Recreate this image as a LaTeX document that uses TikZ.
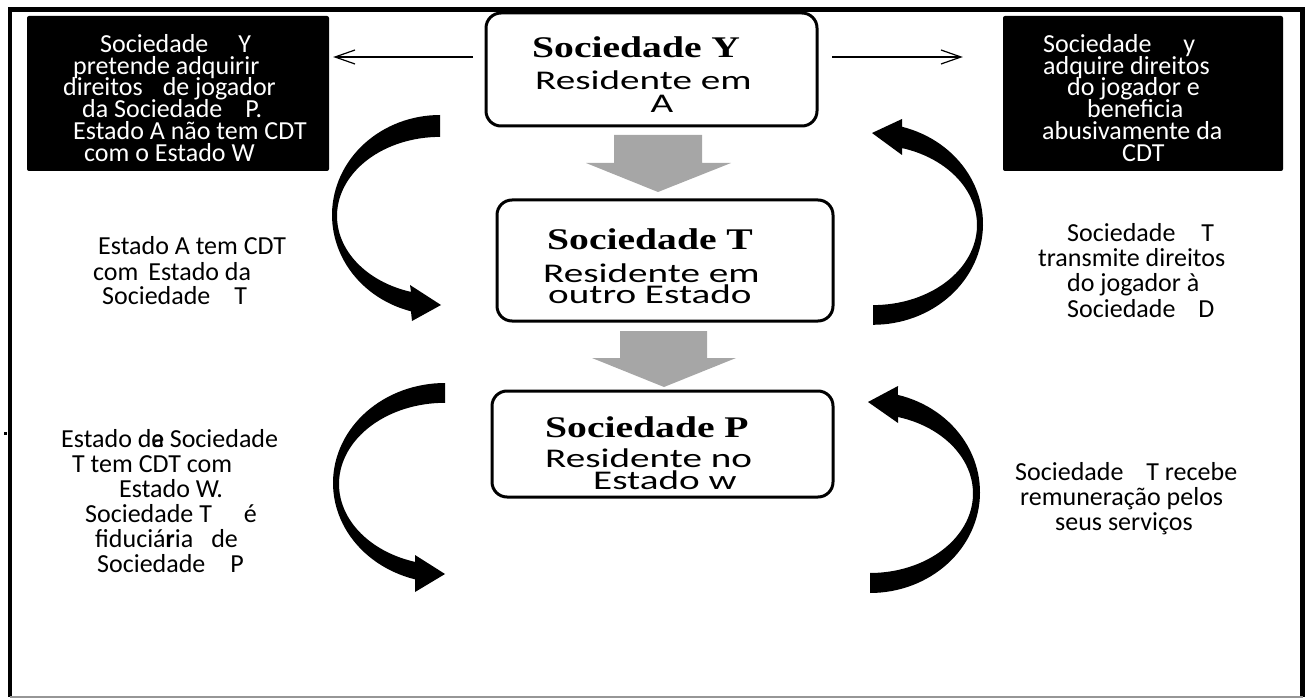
\documentclass[tikz,border=0pt]{standalone}
\usepackage{fontspec}
\setmainfont{Carlito}
\newfontfamily\boxsans{Carlito}[FakeStretch=1.45]
\newfontfamily\boxserif{Liberation Serif}[FakeStretch=1.32]
\usetikzlibrary{arrows.meta}
\definecolor{arrowgray}{RGB}{166,166,166}
\definecolor{framegray}{RGB}{150,150,150}
\tikzset{
  mainbox/.style={draw, line width=3pt, rounded corners=15pt, inner sep=0pt},
  blackbox/.style={fill=black, rounded corners=2pt, inner sep=0pt},
  side/.style={anchor=base west, inner sep=0pt, font=\fontsize{26}{26}\selectfont},
  wside/.style={side, text=white},
  boxtitle/.style={anchor=base west, inner sep=0pt, font=\boxserif\bfseries\fontsize{30}{30}\selectfont},
  boxsub/.style={anchor=base west, inner sep=0pt, font=\boxsans\fontsize{27}{27}\selectfont},
  thinarrow/.style={-{Straight Barb[length=20pt,width=14pt]}, line width=1.2pt},
  curved/.style={fill=black},
  grayarrow/.style={fill=arrowgray},
}
\begin{document}
\begin{tikzpicture}[x=1pt,y=-1pt]
\useasboundingbox (0,0) rectangle (1313,700);
% frame
\draw[line width=4.5pt] (10,697) -- (10,9.5) -- (1302.5,9.5) -- (1302.5,697);
\draw[line width=2pt, framegray] (10,697) -- (1302.5,697);
\fill (4,432) rectangle (7,435);

% main boxes
\node[mainbox, minimum width=331pt, minimum height=113pt] (Y) at (651.5,69.5) {};
\node[mainbox, minimum width=336pt, minimum height=121pt] (T) at (665,260.5) {};
\node[mainbox, minimum width=341pt, minimum height=106pt] (P) at (662.5,444) {};

\node[boxtitle] (yt) at (532,58) {Sociedade Y};
\node[boxsub] (y1) at (535,90) {Residente em};
\node[boxsub, anchor=base] (y2) at (662,113) {A};

\node[boxtitle] (tt) at (547,250) {Sociedade T};
\node[boxsub] (t1) at (543,283) {Residente em};
\node[boxsub] (t2) at (548,303) {outro Estado};

\node[boxtitle] (pt) at (545,437) {Sociedade P};
\node[boxsub] (p1) at (545,467) {Residente no};
\node[boxsub] (p2) at (593,489) {Estado w};

% black boxes
\node[blackbox, minimum width=302pt, minimum height=155pt] (LB) at (178,93.5) {};
\node[blackbox, minimum width=280pt, minimum height=155pt] (RB) at (1143,93.5) {};

\foreach \xx/\yy/\txt [count=\i] in {
  100/53/{Sociedade\hspace{30pt}Y},
  73/75/{pretende adquirir},
  63/96/{direitos\hspace{20pt}de jogador},
  82/118/{da Sociedade\hspace{23pt}P.},
  73/140/{Estado A não tem CDT},
  84/162/{com o Estado W}}
  \node[wside] (lb\i) at (\xx,\yy) {\txt};

\foreach \xx/\yy/\txt [count=\i] in {
  1043/53/{Sociedade\hspace{32pt}y},
  1043/75/{adquire direitos},
  1067/96/{do jogador e},
  1087/118/{beneficia},
  1042/140/{abusivamente da},
  1122/162/{CDT}}
  \node[wside] (rb\i) at (\xx,\yy) {\txt};

% side texts
\foreach \xx/\yy/\txt [count=\i] in {
  98/255/{Estado A tem CDT},
  93/280/{com\hspace{4pt} Estado da},
  102/305/{Sociedade\hspace{24pt}T}}
  \node[side] (lt\i) at (\xx,\yy) {\txt};

\foreach \xx/\yy/\txt [count=\i] in {
  61/447/{Estado d\rlap{e}a Sociedade},
  72/472/{T tem CDT com},
  119/497/{Estado W.},
  85/522/{Sociedade T\hspace{32pt}é},
  95/547/{fiduciá\textbf{r}ia\hspace{18pt}de},
  97/572/{Sociedade\hspace{25pt}P}}
  \node[side] (lbt\i) at (\xx,\yy) {\txt};

\foreach \xx/\yy/\txt [count=\i] in {
  1067/242/{Sociedade\hspace{26pt}T},
  1038/267/{transmite direitos},
  1067/292/{do jogador à},
  1067/317/{Sociedade\hspace{23pt}D}}
  \node[side] (rt\i) at (\xx,\yy) {\txt};

\foreach \xx/\yy/\txt [count=\i] in {
  1015/480/{Sociedade\hspace{23pt}T recebe},
  1020/505/{remuneração pelos},
  1055/530/{seus serviços}}
  \node[side] (rbt\i) at (\xx,\yy) {\txt};

% thin arrows
\coordinate (ay) at (0,57);
\draw[thinarrow, shorten <=11.5pt, shorten >=4pt] (Y.west |- ay) -- (LB.east |- ay);
\draw[thinarrow, shorten <=13.5pt, shorten >=40pt] (Y.east |- ay) -- (RB.west |- ay);

% gray block arrows
\fill[grayarrow] (614,135) -- (702,135) -- (702,163) -- (731,163) -- (658,192) -- (586,163) -- (614,163) -- cycle;
\fill[grayarrow] (620,331) -- (707,331) -- (707,358) -- (736,358) -- (664,387) -- (592,358) -- (620,358) -- cycle;

% curved arrows
\fill[curved] plot[domain=270:105.6, samples=60, variable=\t] ({440+108*cos(\t)},{215+100*sin(\t)})
  -- (412,321) -- (441,305) -- (410,285)
  -- plot[domain=106.35:270, samples=60, variable=\t] ({440+103*cos(\t)},{216+79.1*sin(\t)}) -- cycle;

\fill[curved] plot[domain=270:105.5, samples=60, variable=\t] ({445+112*cos(\t)},{483+100*sin(\t)})
  -- (415,592) -- (445,574) -- (415,555)
  -- plot[domain=106.4:270, samples=60, variable=\t] ({445+106*cos(\t)},{484+81.2*sin(\t)}) -- cycle;

\fill[curved] plot[domain=90:-74.7, samples=60, variable=\t] ({873+110*cos(\t)},{224+100.8*sin(\t)})
  -- (902,119) -- (872,133) -- (902,155)
  -- plot[domain=-73.8:90, samples=60, variable=\t] ({873+104*cos(\t)},{225+80.1*sin(\t)}) -- cycle;

\fill[curved] plot[domain=90:-75.3, samples=60, variable=\t] ({870+110*cos(\t)},{492.3+100.7*sin(\t)})
  -- (898,386) -- (868,402) -- (898,423)
  -- plot[domain=-74.2:90, samples=60, variable=\t] ({870+103*cos(\t)},{493.5+79.5*sin(\t)}) -- cycle;
\end{tikzpicture}
\end{document}
